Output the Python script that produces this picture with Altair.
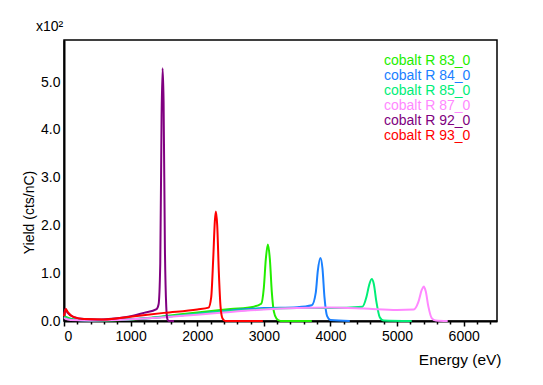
import altair as alt
import pandas as pd

series_names = ["cobalt R 83_0", "cobalt R 84_0", "cobalt R 85_0",
                "cobalt R 87_0", "cobalt R 92_0", "cobalt R 93_0"]
series_colors = ["#22ee00", "#1a80ff", "#00ee77", "#ff88ff", "#800080", "#ff0000"]

# Energy (eV) and Yield (x10^2 cts/nC)
e83 = [0, 100, 300, 600, 1000, 1500, 2000, 2500, 2850, 2960, 3000, 3030, 3060, 3090, 3120, 3150, 3190, 3250, 3720]
y83 = [0.1, 0.05, 0.02, 0.01, 0.03, 0.1, 0.18, 0.25, 0.3, 0.36, 0.7, 1.3, 1.6, 1.3, 0.6, 0.2, 0.05, 0.0, 0.0]

e84 = [0, 100, 400, 800, 1200, 1600, 2000, 2500, 3000, 3500, 3720, 3780, 3810, 3850, 3880, 3910, 3950, 4000, 4290]
y84 = [0.08, 0.03, 0.01, 0.02, 0.05, 0.1, 0.15, 0.22, 0.27, 0.29, 0.33, 0.6, 1.05, 1.32, 1.1, 0.5, 0.1, 0.02, 0.0]

e85 = [0, 100, 400, 800, 1200, 1600, 2000, 2500, 3000, 3500, 4000, 4480, 4540, 4580, 4620, 4650, 4690, 4740, 4800, 5220]
y85 = [0.08, 0.03, 0.01, 0.02, 0.05, 0.1, 0.15, 0.21, 0.25, 0.27, 0.27, 0.3, 0.5, 0.75, 0.88, 0.78, 0.4, 0.08, 0.01, 0.0]

e87 = [0, 100, 400, 800, 1200, 1600, 2000, 2500, 3000, 3500, 4000, 4500, 5000, 5250, 5320, 5370, 5400, 5430, 5470, 5520, 5580, 5760]
y87 = [0.06, 0.02, 0.01, 0.02, 0.05, 0.09, 0.13, 0.19, 0.24, 0.27, 0.28, 0.26, 0.23, 0.24, 0.4, 0.65, 0.72, 0.62, 0.3, 0.06, 0.01, 0.0]

e92 = [0, 20, 50, 150, 300, 500, 800, 1000, 1200, 1390, 1420, 1445, 1465, 1480, 1495, 1515, 1535, 1550, 1570, 1650]
y92 = [0.1, 0.25, 0.18, 0.08, 0.04, 0.03, 0.06, 0.1, 0.17, 0.25, 0.35, 1.2, 4.3, 5.29, 4.6, 1.5, 0.3, 0.05, 0.0, 0.0]

e93 = [0, 25, 60, 150, 300, 600, 1000, 1500, 2000, 2170, 2210, 2240, 2265, 2280, 2300, 2325, 2350, 2380, 2420, 2985]
y93 = [0.1, 0.25, 0.18, 0.08, 0.04, 0.03, 0.09, 0.17, 0.24, 0.28, 0.5, 1.3, 2.1, 2.29, 2.0, 1.0, 0.3, 0.05, 0.0, 0.0]

energies = [e83, e84, e85, e87, e92, e93]
yields = [y83, y84, y85, y87, y92, y93]

rows = []
for name, es, ys in zip(series_names, energies, yields):
    for e, y in zip(es, ys):
        rows.append({"series": name, "energy": e, "yield": y})
df = pd.DataFrame(rows)

x_ticks = list(range(0, 6501, 200))
y_ticks = [0, 1, 2, 3, 4, 5]

chart = alt.Chart(df).mark_line(strokeWidth=2, interpolate="monotone").encode(
    x=alt.X("energy:Q",
            scale=alt.Scale(domain=[0, 6500], nice=False, zero=False),
            axis=alt.Axis(values=x_ticks, format="d", grid=False,
                          labelExpr="datum.value % 1000 === 0 ? datum.label : ''",
                          tickSize={"condition": {"test": "datum.value % 1000 === 0", "value": 5}, "value": 3},
                          title="Energy (eV)", titleAnchor="end", titleAlign="right",
                          titleX=437, titleY=38, titleBaseline="middle", titleFontSize=15.5)),
    y=alt.Y("yield:Q",
            scale=alt.Scale(domain=[0, 5.88], nice=False),
            axis=alt.Axis(values=y_ticks, format=".1f", grid=False, ticks=False,
                          labelPadding=4,
                          title="Yield (cts/nC)", titleX=-35, titleY=172,
                          titleAlign="center", titleBaseline="middle", titleAngle=-90)),
    color=alt.Color("series:N",
                    scale=alt.Scale(domain=series_names, range=series_colors),
                    legend=alt.Legend(title=None, orient="none", legendX=306, legendY=14,
                                      symbolSize=0, symbolOpacity=0, symbolStrokeWidth=0,
                                      labelOffset=0, labelFontSize=14, rowPadding=1,
                                      padding=0,
                                      labelColor={"expr": "scale('color', datum.value)"})),
).properties(
    width=433, height=281,
    title=alt.TitleParams("x10²", anchor="start", frame="group", dx=-28, fontSize=14,
                          fontWeight="normal", font="Liberation Sans", offset=6, color="black"),
    autosize=alt.AutoSizeParams(type="none"),
    padding={"left": 56, "top": 32, "right": 30, "bottom": 50},
).configure_view(
    stroke="black", strokeWidth=1.5
).configure_axis(
    domainColor="black", domainWidth=2, tickColor="black", tickWidth=1.5,
    labelFont="Liberation Sans", labelFontSize=14, labelColor="black",
    titleFont="Liberation Sans", titleFontSize=14, titleColor="black", titleFontWeight="normal",
    labelPadding=3
).configure_legend(
    labelFont="Liberation Sans"
)

chart.save("out.html", embed_options={"renderer": "svg", "actions": False})
